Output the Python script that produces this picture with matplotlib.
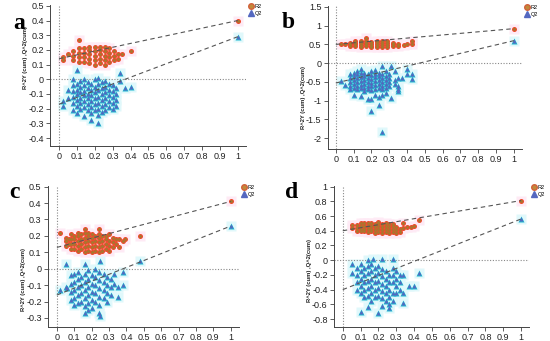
import numpy as np
import matplotlib
matplotlib.use('Agg')
import matplotlib.pyplot as plt
from matplotlib.lines import Line2D

plt.rcParams['font.family'] = ['Liberation Sans', 'DejaVu Sans']

# permutation results: (correlation x, [values]) per column
a_r2 = [(0.02, [0.13, 0.15]), (0.05, [0.17]), (0.08, [0.13, 0.16, 0.19]),
        (0.11, [0.12, 0.15, 0.18, 0.21, 0.27]), (0.14, [0.12, 0.15, 0.18, 0.21]),
        (0.17, [0.11, 0.14, 0.17, 0.20, 0.22]), (0.20, [0.10, 0.13, 0.16, 0.19, 0.22]),
        (0.23, [0.11, 0.14, 0.17, 0.20, 0.22]), (0.26, [0.10, 0.13, 0.16, 0.19, 0.22]),
        (0.28, [0.12, 0.15, 0.18, 0.21]), (0.31, [0.13, 0.16, 0.19]),
        (0.33, [0.14, 0.17]), (0.35, [0.17]), (0.40, [0.19])]
a_q2 = [(0.02, [-0.15, -0.18]), (0.05, [-0.07, -0.13]),
        (0.08, [0.0, -0.04, -0.08, -0.12, -0.16, -0.21]),
        (0.10, [0.06, -0.03, -0.07, -0.10, -0.14, -0.18, -0.23]),
        (0.12, [-0.01, -0.05, -0.09, -0.13, -0.16, -0.20]),
        (0.14, [0.0, -0.04, -0.08, -0.11, -0.15, -0.19, -0.25]),
        (0.16, [-0.02, -0.06, -0.10, -0.13, -0.17, -0.21]),
        (0.18, [-0.03, -0.07, -0.11, -0.15, -0.19, -0.23, -0.28]),
        (0.20, [0.0, -0.05, -0.09, -0.13, -0.17, -0.21]),
        (0.22, [0.01, -0.03, -0.07, -0.12, -0.16, -0.20, -0.24, -0.30]),
        (0.24, [-0.02, -0.06, -0.10, -0.14, -0.18, -0.22]),
        (0.26, [-0.01, -0.05, -0.09, -0.13, -0.17, -0.21]),
        (0.28, [-0.03, -0.07, -0.11, -0.15, -0.19]),
        (0.30, [-0.04, -0.08, -0.12, -0.16, -0.20]),
        (0.32, [-0.06, -0.10, -0.14, -0.18]),
        (0.34, [0.04, -0.01]), (0.37, [-0.06]), (0.40, [-0.05])]

b_r2 = [(0.03, [0.50]), (0.05, [0.52]), (0.08, [0.45, 0.50, 0.55]),
        (0.11, [0.45, 0.50, 0.55, 0.58]), (0.14, [0.44, 0.49, 0.54, 0.59]),
        (0.17, [0.45, 0.50, 0.55, 0.60, 0.66]), (0.20, [0.42, 0.47, 0.52, 0.57]),
        (0.23, [0.42, 0.47, 0.52, 0.57, 0.60]), (0.26, [0.43, 0.48, 0.53, 0.58]),
        (0.29, [0.44, 0.49, 0.54, 0.59]), (0.32, [0.45, 0.50, 0.55]),
        (0.35, [0.47, 0.52]), (0.38, [0.48]), (0.40, [0.50]), (0.43, [0.52, 0.58])]
b_q2 = [(0.03, [-0.47]), (0.05, [-0.58]),
        (0.08, [-0.30, -0.40, -0.50, -0.60, -0.68]),
        (0.10, [-0.25, -0.35, -0.45, -0.55, -0.65, -0.85]),
        (0.12, [-0.20, -0.30, -0.40, -0.50, -0.60, -0.70]),
        (0.14, [-0.15, -0.27, -0.37, -0.47, -0.57, -0.67, -0.87]),
        (0.16, [-0.25, -0.35, -0.45, -0.55, -0.65, -0.75]),
        (0.18, [-0.30, -0.40, -0.50, -0.60, -0.70, -0.95]),
        (0.20, [-0.20, -0.32, -0.42, -0.52, -0.62, -0.72, -0.95, -1.28]),
        (0.22, [-0.18, -0.28, -0.38, -0.48, -0.58, -0.68, -0.85]),
        (0.24, [-0.25, -0.35, -0.45, -0.55, -0.65, -0.90, -1.12]),
        (0.26, [-0.07, -0.30, -0.40, -0.50, -0.60, -0.70, -0.85, -1.83]),
        (0.28, [-0.20, -0.35, -0.45, -0.55, -0.65, -0.80]),
        (0.30, [-0.30, -0.40, -0.50, -0.60]),
        (0.31, [-0.08, -0.93]), (0.33, [-0.20, -0.45, -0.55]),
        (0.35, [-0.40, -0.60, -0.70, -0.75]), (0.37, [-0.40]),
        (0.40, [-0.15, -0.28]), (0.43, [-0.30, -0.42])]

c_r2 = [(0.02, [0.22]), (0.05, [0.14, 0.17, 0.19]), (0.07, [0.15, 0.18]),
        (0.08, [0.12, 0.15, 0.18, 0.21]), (0.10, [0.12, 0.15, 0.18, 0.20]),
        (0.12, [0.11, 0.14, 0.17, 0.20, 0.22]), (0.14, [0.12, 0.15, 0.18, 0.21]),
        (0.16, [0.10, 0.13, 0.16, 0.19, 0.22, 0.24]), (0.18, [0.11, 0.14, 0.17, 0.20, 0.22]),
        (0.20, [0.10, 0.13, 0.16, 0.19, 0.21]), (0.22, [0.11, 0.14, 0.17, 0.20]),
        (0.24, [0.10, 0.13, 0.16, 0.19, 0.21, 0.24]), (0.26, [0.11, 0.14, 0.17, 0.20]),
        (0.28, [0.12, 0.15, 0.18, 0.20]), (0.30, [0.11, 0.14, 0.17, 0.21]),
        (0.32, [0.13, 0.16, 0.19]), (0.34, [0.15, 0.18]), (0.36, [0.13, 0.18]),
        (0.38, [0.17]), (0.39, [0.18]), (0.48, [0.20])]
c_q2 = [(0.02, [-0.13]), (0.05, [0.03, -0.11]), (0.06, [-0.12]),
        (0.08, [-0.04, -0.09, -0.14, -0.19]),
        (0.10, [-0.03, -0.08, -0.13, -0.18, -0.22]),
        (0.12, [-0.02, -0.06, -0.11, -0.16, -0.21]),
        (0.14, [-0.05, -0.10, -0.15, -0.20]),
        (0.16, [0.03, -0.03, -0.08, -0.13, -0.18, -0.23, -0.27]),
        (0.18, [-0.01, -0.06, -0.11, -0.16, -0.21, -0.25]),
        (0.20, [-0.04, -0.09, -0.14, -0.19, -0.24]),
        (0.22, [0.0, -0.05, -0.10, -0.15, -0.20]),
        (0.24, [-0.02, -0.07, -0.12, -0.17, -0.22, -0.27]),
        (0.25, [0.05, -0.29]), (0.27, [-0.03, -0.08, -0.13, -0.18]),
        (0.29, [-0.05, -0.10, -0.15, -0.20]), (0.31, [-0.06, -0.11, -0.16]),
        (0.33, [-0.03, -0.09]), (0.35, [-0.11, -0.17]), (0.38, [-0.02, -0.10]),
        (0.48, [0.05])]

d_r2 = [(0.05, [0.44, 0.48]), (0.08, [0.40, 0.44, 0.48]),
        (0.10, [0.39, 0.43, 0.47, 0.50]), (0.12, [0.39, 0.43, 0.47, 0.50]),
        (0.14, [0.38, 0.42, 0.46, 0.50]), (0.16, [0.39, 0.43, 0.47, 0.50]),
        (0.18, [0.37, 0.41, 0.45, 0.49]), (0.20, [0.38, 0.42, 0.46, 0.50, 0.52]),
        (0.22, [0.37, 0.41, 0.45, 0.49]), (0.24, [0.38, 0.42, 0.46, 0.50]),
        (0.26, [0.37, 0.41, 0.45, 0.49]), (0.28, [0.38, 0.42, 0.46, 0.49]),
        (0.30, [0.37, 0.41, 0.45]), (0.32, [0.38, 0.42]), (0.34, [0.44, 0.50]),
        (0.36, [0.45]), (0.38, [0.45]), (0.40, [0.46]), (0.43, [0.54])]
d_q2 = [(0.05, [-0.05, -0.17]), (0.08, [-0.10, -0.20, -0.30, -0.40]),
        (0.10, [-0.05, -0.15, -0.25, -0.35, -0.45, -0.70]),
        (0.12, [-0.10, -0.20, -0.30, -0.40, -0.50]),
        (0.14, [0.0, -0.08, -0.18, -0.28, -0.38, -0.48, -0.63]),
        (0.16, [-0.05, -0.15, -0.25, -0.35, -0.45, -0.55]), (0.17, [0.02]),
        (0.18, [-0.10, -0.20, -0.30, -0.40, -0.50]),
        (0.20, [-0.08, -0.18, -0.28, -0.38, -0.48, -0.72]),
        (0.22, [0.02, -0.12, -0.22, -0.32, -0.42, -0.52, -0.62]),
        (0.24, [-0.15, -0.25, -0.35, -0.45, -0.55]),
        (0.26, [-0.20, -0.30, -0.40, -0.50, -0.60, -0.65]),
        (0.28, [0.01, -0.10, -0.20, -0.30, -0.45, -0.55]),
        (0.30, [-0.15, -0.25, -0.35, -0.45]), (0.32, [-0.20, -0.30, -0.40]),
        (0.34, [-0.20, -0.45, -0.58]), (0.37, [-0.35]), (0.40, [-0.35]), (0.43, [-0.17])]

# original model values (x = 1) and regression intercepts
orig_r2 = [0.40, 0.92, 0.41, 0.81]
orig_q2 = [0.29, 0.60, 0.26, 0.56]
icpt_r2 = [0.14, 0.50, 0.13, 0.40]
icpt_q2 = [-0.17, -0.53, -0.16, -0.40]

panels = [
    dict(letter='a', r2=a_r2, q2=a_q2, pos=[0.091, 0.572, 0.356, 0.413],
         xlim=(-0.05, 1.045), ylim=(-0.454, 0.505), yt=np.arange(-0.4, 0.51, 0.1),
         lab=(-0.125, 0.63), lpos=(0.034, 0.93)),
    dict(letter='b', r2=b_r2, q2=b_q2, pos=[0.596, 0.563, 0.353, 0.419],
         xlim=(-0.045, 1.045), ylim=(-2.29, 1.52), yt=np.arange(-2, 1.51, 0.5),
         lab=(-0.125, 0.36), lpos=(0.524, 0.935)),
    dict(letter='c', r2=c_r2, q2=c_q2, pos=[0.087, 0.041, 0.347, 0.414],
         xlim=(-0.052, 1.046), ylim=(-0.355, 0.505), yt=np.arange(-0.3, 0.51, 0.1),
         lab=(-0.125, 0.34), lpos=(0.027, 0.435)),
    dict(letter='d', r2=d_r2, q2=d_q2, pos=[0.607, 0.041, 0.355, 0.414],
         xlim=(-0.05, 1.045), ylim=(-0.908, 1.01), yt=np.arange(-0.8, 1.01, 0.2),
         lab=(-0.125, 0.40), lpos=(0.530, 0.435)),
]


def flat(cols):
    xs, ys = [], []
    for x, vals in cols:
        xs += [x] * len(vals)
        ys += vals
    return np.array(xs), np.array(ys)


def fmt(v):
    v = round(v, 2)
    if abs(v) < 1e-9:
        return '0'
    return f'{v:g}'


fig = plt.figure(figsize=(5.5, 3.41), dpi=100)

for i, p in enumerate(panels):
    ax = fig.add_axes(p['pos'])
    rx, ry = flat(p['r2'])
    qx, qy = flat(p['q2'])
    rx = np.append(rx, 1.0)
    ry = np.append(ry, orig_r2[i])
    qx = np.append(qx, 1.0)
    qy = np.append(qy, orig_q2[i])

    # pale halos
    ax.plot(rx, ry, 's', ms=7.5, color='#feeaf5', mec='none', zorder=1)
    ax.plot(qx, qy, 's', ms=7.5, color='#e0f8fb', mec='none', zorder=1)

    ax.axhline(0, color='#888888', lw=0.8, ls=(0, (1, 1.5)), zorder=2)
    ax.axvline(0, color='#888888', lw=0.8, ls=(0, (1, 1.5)), zorder=2)

    # Q2 triangles
    ax.plot(qx, qy, '^', ms=4.6, color='#1cb8d0', mec='none', zorder=3)
    ax.plot(qx, qy, '^', ms=2.9, color='#5468c0', mec='none', zorder=4)
    # R2 circles
    ax.plot(rx, ry, 'o', ms=3.6, color='#ee4a2c', mec='none', zorder=3)
    ax.plot(rx, ry, 'o', ms=2.1, color='#a7782f', mec='none', zorder=4)

    ax.plot([0, 1], [icpt_r2[i], orig_r2[i]], color='#555555', lw=0.8,
            ls=(0, (4, 3)), zorder=5)
    ax.plot([0, 1], [icpt_q2[i], orig_q2[i]], color='#555555', lw=0.8,
            ls=(0, (4, 3)), zorder=5)

    ax.set_xlim(*p['xlim'])
    ax.set_ylim(*p['ylim'])
    xt = np.arange(0, 1.01, 0.1)
    ax.set_xticks(xt)
    ax.set_xticklabels([fmt(v) for v in xt])
    ax.set_yticks(p['yt'])
    ax.set_yticklabels([fmt(v) for v in p['yt']])
    ax.tick_params(labelsize=6.5, length=3, width=0.6, color='#444444',
                   labelcolor='#222222', pad=1.5)
    for s in ['top', 'right']:
        ax.spines[s].set_visible(False)
    for s in ['left', 'bottom']:
        ax.spines[s].set_color('#444444')
        ax.spines[s].set_linewidth(0.7)

    ax.text(p['lab'][0], p['lab'][1], 'R^2Y (cum) ,Q^2(cum)', transform=ax.transAxes,
            rotation=90, fontsize=4.2, fontweight='bold', ha='center', va='center',
            color='#222222')

    handles = [Line2D([], [], marker='o', ls='none', ms=4, color='#c08a3a', mec='#d2603a'),
               Line2D([], [], marker='^', ls='none', ms=4, color='#5468c0', mec='#5468c0')]
    ax.legend(handles, ['R2', 'Q2'], loc='upper left', bbox_to_anchor=(1.0, 1.03),
              frameon=False, fontsize=4, handlelength=0.6, handletextpad=0.4,
              labelspacing=0.3, borderaxespad=0.2)

    fig.text(p['lpos'][0], p['lpos'][1], p['letter'], fontsize=17, fontweight='bold',
             family='Liberation Serif', ha='center', va='center')

fig.savefig('out.png', dpi=100)
